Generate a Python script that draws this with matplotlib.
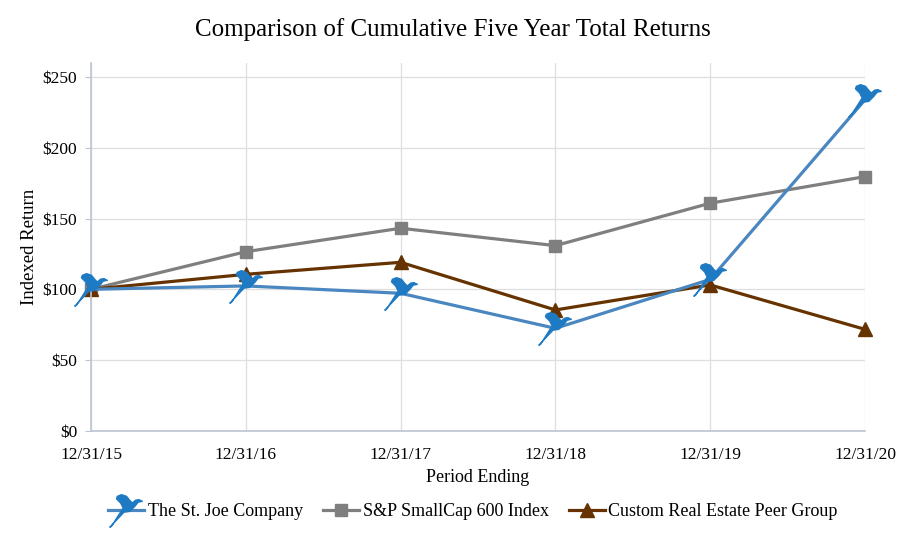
import numpy as np
import matplotlib.pyplot as plt
from matplotlib.path import Path

# data
periods = ["12/31/15", "12/31/16", "12/31/17", "12/31/18", "12/31/19", "12/31/20"]
st_joe = [100, 102.4, 97.2, 72.4, 107, 234]
sp600 = [100, 126.6, 143.2, 130.9, 160.9, 179.7]
peer_group = [100, 110.6, 119.1, 85.4, 103.1, 71.7]

# rough bird shape for the St. Joe marker
bird_verts = [(-1.0, -1.0), (-0.15, -0.1), (0.2, -0.05), (0.5, 0.25), (0.7, 0.5),
              (0.95, 0.55), (0.75, 0.65), (0.55, 0.62), (0.35, 0.45), (0.2, 0.6),
              (0.0, 0.85), (-0.3, 0.95), (-0.55, 0.85), (-0.6, 0.7), (-0.35, 0.45),
              (-0.2, 0.15), (-0.9, -0.95), (-1.0, -1.0)]
bird_codes = [Path.MOVETO] + [Path.LINETO] * (len(bird_verts) - 2) + [Path.CLOSEPOLY]
bird = Path(bird_verts, bird_codes)

plt.rcParams['font.family'] = ['Liberation Serif', 'DejaVu Serif']

fig = plt.figure(figsize=(9.06, 5.43), dpi=100)
ax = fig.add_axes([0.1004, 0.2068, 0.8543, 0.677])

x = np.arange(len(periods))
ax.plot(x, st_joe, color='#4a86c0', lw=2.3, marker=bird, markersize=24,
        markerfacecolor='#1f7ac4', markeredgecolor='#1f7ac4', label='The St. Joe Company',
        zorder=3, clip_on=False)
ax.plot(x, sp600, color='#7f7f7f', lw=2.3, marker='s', markersize=9,
        label='S&P SmallCap 600 Index', zorder=2, clip_on=False)
ax.plot(x, peer_group, color='#663300', lw=2.3, marker='^', markersize=9.5,
        label='Custom Real Estate Peer Group', zorder=2, clip_on=False)

ax.set_xlim(0, 5)
ax.set_ylim(0, 260)
ax.set_yticks(np.arange(0, 251, 50))
ax.set_yticklabels(['$%d' % v for v in range(0, 251, 50)])
ax.set_xticks(x)
ax.set_xticklabels(periods)
ax.grid(True, color='#dedede', lw=0.9)
ax.set_axisbelow(True)
for s in ['top', 'right']:
    ax.spines[s].set_visible(False)
for s in ['left', 'bottom']:
    ax.spines[s].set_color('#bcc4d4')
    ax.spines[s].set_linewidth(1.2)
ax.tick_params(labelsize=12.5, colors='#bcc4d4', labelcolor='black', length=4)
ax.tick_params(axis='y', pad=6)
ax.tick_params(axis='x', pad=12, length=0)

fig.suptitle('Comparison of Cumulative Five Year Total Returns', y=0.966, fontsize=18)
ax.set_xlabel('Period Ending', fontsize=13, labelpad=4)
ax.set_ylabel('Indexed Return', fontsize=13.5, labelpad=3)
fig.legend(loc='center', bbox_to_anchor=(0.522, 0.058), ncol=3, frameon=False,
           fontsize=13, handlelength=2.0, handletextpad=0.2, columnspacing=1.1)

fig.savefig('out.png', dpi=100)
